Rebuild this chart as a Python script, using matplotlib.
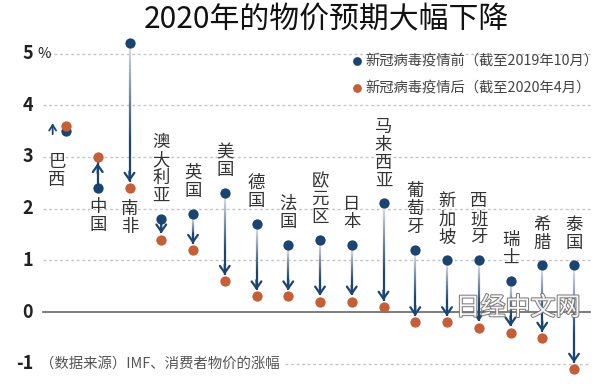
import numpy as np
import matplotlib.pyplot as plt
import matplotlib.patheffects as pe
from matplotlib.collections import LineCollection
from matplotlib.colors import to_rgb

plt.rcParams['font.family'] = ['Noto Sans CJK SC', 'DejaVu Sans']

# data (CPI growth forecast, %)
countries = ['巴西', '中国', '南非', '澳大利亚', '英国', '美国', '德国', '法国', '欧元区',
             '日本', '马来西亚', '葡萄牙', '新加坡', '西班牙', '瑞士', '希腊', '泰国']
before = [3.5, 2.4, 5.2, 1.8, 1.9, 2.3, 1.7, 1.3, 1.4, 1.3, 2.1, 1.2, 1.0, 1.0, 0.6, 0.9, 0.9]
after = [3.6, 3.0, 2.4, 1.4, 1.2, 0.6, 0.3, 0.3, 0.2, 0.2, 0.1, -0.2, -0.2, -0.3, -0.4, -0.5, -1.1]
yticks = [5, 4, 3, 2, 1, 0, -1]

title = '2020年的物价预期大幅下降'
leg_before = '新冠病毒疫情前（截至2019年10月）'
leg_after = '新冠病毒疫情后（截至2020年4月）'
source = '（数据来源）IMF、消费者物价的涨幅'

blue = '#1b4470'
orange = '#c45f37'
light = '#d8dbe2'

W, H = 600, 392
x0, dx = 66, 31.75
y0, dy = 312, 51.7


def px(x):
    return (x - x0) / dx


fig = plt.figure(figsize=(6, 3.92), dpi=100)
ax = fig.add_axes([0, 0, 1, 1])
ax.set_xlim(-x0 / dx, (W - x0) / dx)
ax.set_ylim((y0 - H) / dy, y0 / dy)
ax.axis('off')

# grid
for v in yticks:
    if v == 0:
        ax.plot([px(43), px(590)], [0, 0], color='#666666', lw=1.2, zorder=1)
    elif v == -1:
        ax.plot([px(285), px(590)], [v, v], color='#c4c4c4', lw=1, ls=(0, (2, 2)), zorder=1)
    else:
        ax.plot([px(43), px(590)], [v, v], color='#c4c4c4', lw=1, ls=(0, (2, 2)), zorder=1)
    ax.text(px(33), v, str(v), ha='right', va='center', fontsize=13,
            fontweight='bold', color='#222222')
ax.text(px(37), 5, '%', ha='left', va='center', fontsize=10.5, color='#222222')

# arrows
c_light = np.array(to_rgb(light))
c_dark = np.array(to_rgb(blue))
x = np.arange(len(countries))
for i, (b, a) in enumerate(zip(before, after)):
    if i == 0:
        ax.annotate('', xy=(i - 0.42, a + 0.05), xytext=(i - 0.42, b - 0.06),
                    arrowprops=dict(arrowstyle='->,head_length=0.4,head_width=0.25',
                                    color=blue, lw=1.3, shrinkA=0, shrinkB=0))
        continue
    d = np.sign(a - b)
    start = b + d * 0.1
    tip = a - d * 0.12
    if d < 0:
        ys = np.linspace(start, tip, 40)
        segs = [[(i, ys[k]), (i, ys[k + 1])] for k in range(len(ys) - 1)]
        t = np.clip(np.linspace(0, 1, len(segs)) / 0.7, 0, 1) ** 0.9
        cols = [c_light * (1 - s) + c_dark * s for s in t]
        ax.add_collection(LineCollection(segs, colors=cols, lw=1.6, zorder=2))
    else:
        ax.plot([i, i], [start, tip], color=blue, lw=1.6, zorder=2)
    ax.annotate('', xy=(i, tip), xytext=(i, tip - d * 0.2),
                arrowprops=dict(arrowstyle='->,head_length=0.5,head_width=0.35',
                                color=blue, lw=1.6, shrinkA=0, shrinkB=0), zorder=3)

ax.scatter(x, before, s=55, color=blue, zorder=5, linewidths=0)
ax.scatter(x, after, s=55, color=orange, zorder=5, linewidths=0)

# country labels
for i, name in enumerate(countries):
    txt = '\n'.join(name)
    kw = dict(textcoords='offset points', ha='center', fontsize=12.5,
              color='#333333', linespacing=1.0)
    if i == 0:
        ax.annotate(txt, xy=(i, before[i]), xytext=(-6.5, -16), va='top', **kw)
    elif i == 1:
        ax.annotate(txt, xy=(i, before[i]), xytext=(0, -7), va='top', **kw)
    elif i == 2:
        ax.annotate(txt, xy=(i, after[i]), xytext=(0, -9), va='top', **kw)
    else:
        ax.annotate(txt, xy=(i, before[i]), xytext=(0, 10), va='bottom', **kw)

# legend
ax.scatter([357 / W], [1 - 61 / H], s=40, color=blue, transform=ax.transAxes, linewidths=0)
ax.scatter([357 / W], [1 - 88 / H], s=40, color=orange, transform=ax.transAxes, linewidths=0)
ax.text(365 / W, 1 - 61 / H, leg_before, transform=ax.transAxes, va='center',
        fontsize=10.3, color='#444444')
ax.text(365 / W, 1 - 88 / H, leg_after, transform=ax.transAxes, va='center',
        fontsize=10.3, color='#444444')

ax.text(px(40), -1, source, ha='left', va='center', fontsize=10.4, color='#555555')

fig.text(326 / W, 1 - 20 / H, title, ha='center', va='center', fontsize=21.5, color='#111111')

# watermark
fig.text(518 / W, 1 - 308 / H, '日经中文网', ha='center', va='center', fontsize=18,
         color='white', alpha=0.95,
         path_effects=[pe.withStroke(linewidth=1.5, foreground='#777777')], zorder=10)

fig.savefig('out.png', dpi=100)
